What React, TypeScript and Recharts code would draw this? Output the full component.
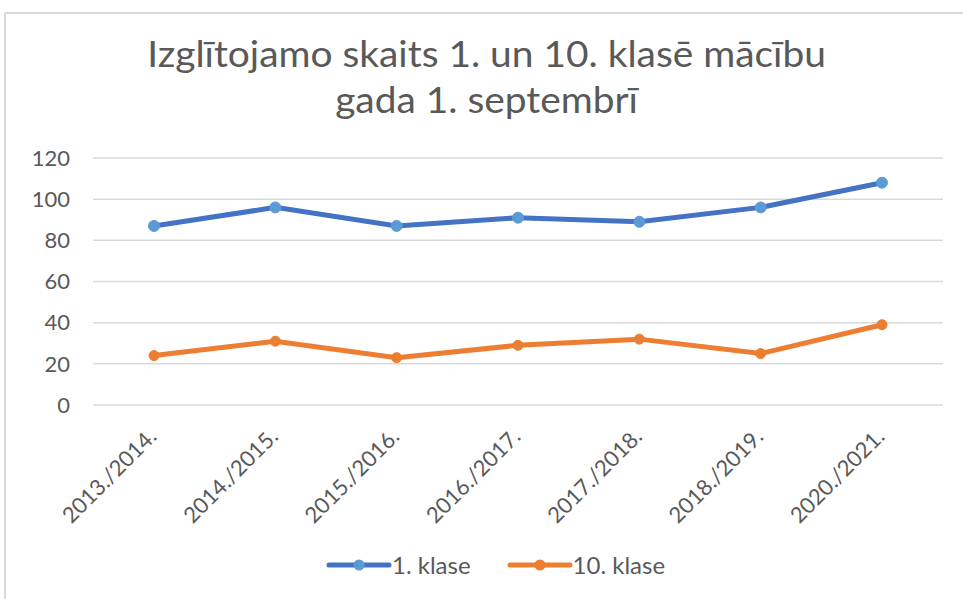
import React from "react"
import { LineChart, Line, XAxis, YAxis, CartesianGrid } from "recharts"

const years = ["2013./2014.", "2014./2015.", "2015./2016.", "2016./2017.", "2017./2018.", "2018./2019.", "2020./2021."]
const firstGrade = [87, 96, 87, 91, 89, 96, 108]
const tenthGrade = [24, 31, 23, 29, 32, 25, 39]
const yTicks = [0, 20, 40, 60, 80, 100, 120]

const data = years.map((year, i) => ({
  year,
  first: firstGrade[i],
  tenth: tenthGrade[i],
}))

const FONT = "Lato, 'Open Sans', sans-serif"
const TEXT = "#595959"
const BLUE = "#4472C4"
const BLUE_DOT = "#5B9BD5"
const ORANGE = "#ED7D31"

function YearTick(props: any) {
  const { x, y, payload } = props
  return (
    <g transform={`translate(${x + 4},${y + 25})`}>
      <text transform="rotate(-45)" textAnchor="end" fill={TEXT} fontSize={22} fontFamily={FONT}>
        {payload.value}
      </text>
    </g>
  )
}

function LegendItem({ line, dot, label, gap }: { line: string; dot: string; label: string; gap: number }) {
  return (
    <div style={{ display: "flex", alignItems: "center", marginRight: gap }}>
      <svg width={66} height={14}>
        <line x1={3} y1={7} x2={63} y2={7} stroke={line} strokeWidth={5} strokeLinecap="round" />
        <circle cx={33} cy={7} r={5.5} fill={dot} />
      </svg>
      <span style={{ marginLeft: 0, color: TEXT, fontSize: 24, fontFamily: FONT }}>{label}</span>
    </div>
  )
}

export default function App() {
  return (
    <div style={{ position: "absolute", left: 0, top: 0, width: 963, height: 599, background: "#fff", overflow: "hidden" }}>
      <div
        style={{
          position: "absolute",
          left: 4,
          top: 12,
          width: 1000,
          height: 650,
          border: "2px solid #d9d9d9",
        }}
      />
      <div
        style={{
          position: "absolute",
          left: 0,
          top: 30,
          width: 973,
          textAlign: "center",
          color: TEXT,
          fontFamily: FONT,
          fontSize: 36,
          lineHeight: "46px",
          transform: "scaleX(1.08)",
          transformOrigin: "486px 0",
        }}
      >
        Izglītojamo skaits 1. un 10. klasē mācību
        <br />
        gada 1. septembrī
      </div>
      <div style={{ position: "absolute", left: 0, top: 0 }}>
        <LineChart width={963} height={599} data={data} margin={{ top: 158, right: 20, left: 0, bottom: 0 }}>
          <CartesianGrid vertical={false} stroke="#d9d9d9" strokeWidth={1.5} />
          <XAxis
            dataKey="year"
            height={194}
            axisLine={false}
            tickLine={false}
            interval={0}
            padding={{ left: 61, right: 61 }}
            tick={<YearTick />}
          />
          <YAxis
            width={93}
            domain={[0, 120]}
            ticks={yTicks}
            axisLine={false}
            tickLine={false}
            tickSize={0}
            tickMargin={23}
            tick={{ fill: TEXT, fontSize: 22, fontFamily: FONT }}
          />
          <Line
            dataKey="first"
            stroke={BLUE}
            strokeWidth={5}
            dot={{ r: 5.5, fill: BLUE_DOT, stroke: BLUE_DOT, strokeWidth: 1 }}
            isAnimationActive={false}
          />
          <Line
            dataKey="tenth"
            stroke={ORANGE}
            strokeWidth={5}
            dot={{ r: 5, fill: ORANGE, stroke: ORANGE, strokeWidth: 1 }}
            isAnimationActive={false}
          />
        </LineChart>
      </div>
      <div style={{ position: "absolute", left: 326, top: 550, display: "flex" }}>
        <LegendItem line={BLUE} dot={BLUE_DOT} label="1. klase" gap={36} />
        <LegendItem line={ORANGE} dot={ORANGE} label="10. klase" gap={0} />
      </div>
    </div>
  )
}
